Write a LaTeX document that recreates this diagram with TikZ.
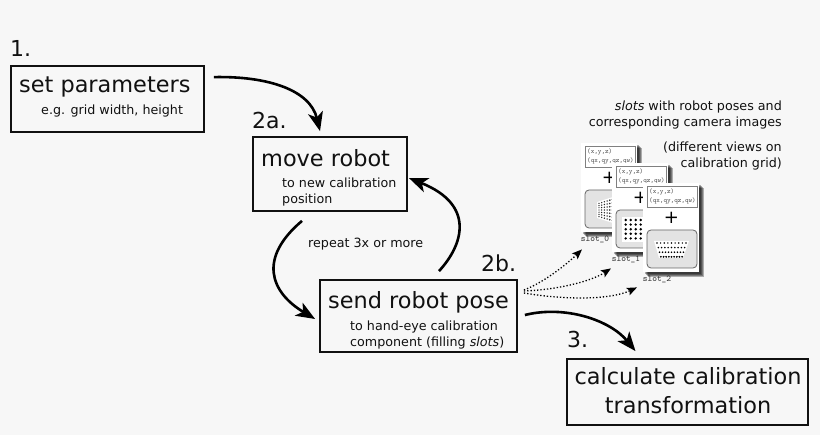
\documentclass[tikz,border=0pt]{standalone}
\usepackage{fontspec}
\setmainfont{DejaVu Sans}
\usetikzlibrary{arrows.meta,calc}
\definecolor{bg}{HTML}{F7F7F7}
\definecolor{ink}{HTML}{111111}
\tikzset{
  box/.style={draw=ink,line width=1.8pt,fill=none,inner sep=0pt},
  flow/.style={draw=black,line width=2.6pt,-{Stealth[length=19pt,width=15pt,inset=5pt]}},
  dotflow/.style={draw=black,line width=1.3pt,dotted,-{Stealth[length=10pt,width=8pt,inset=2pt]}},
  txt/.style={inner sep=0pt,text=ink,anchor=base west},
  big/.style={font=\fontsize{22.4}{22.4}\selectfont},
  small/.style={font=\fontsize{12.7}{12.7}\selectfont},
  num/.style={font=\fontsize{22}{22}\selectfont},
  txtr/.style={inner sep=0pt,text=ink,anchor=base east,small},
  card/.style={fill=white,minimum width=56pt,minimum height=89pt,inner sep=0pt},
  cardshadow/.style={fill=black,opacity=.3,minimum width=56pt,minimum height=89pt,inner sep=0pt},
  posebox/.style={draw=black!50,line width=.7pt,fill=white,minimum width=50pt,minimum height=21pt,inner sep=0pt},
  imgbox/.style={draw=black!60,line width=.8pt,fill=black!11,rounded corners=4pt,minimum width=50pt,minimum height=38pt,inner sep=0pt},
  mono/.style={inner sep=0pt,font=\ttfamily\fontsize{6.75}{6.75}\selectfont,text=black!70},
  slotlabel/.style={inner sep=0pt,font=\ttfamily\fontsize{9}{9}\selectfont,text=black!80}
}
\newcommand{\slotcard}[4]{% #1 name, #2 x, #3 y, #4 label
  \foreach \o in {4.5,3.5,2.5,1.5}{
    \node[cardshadow,anchor=north west] at (#2+\o,#3+\o) {};
  }
  \node[card,anchor=north west] (#1) at (#2,#3) {};
  \node[posebox] (#1p) at (#2+29,#3+14) {};
  \node[mono,anchor=west] at (#2+6,#3+9) {(x,y,z)};
  \node[mono,anchor=west] at (#2+6,#3+18) {(qx,qy,qz,qw)};
  \node[inner sep=0pt,font=\fontsize{18}{18}\selectfont,text=black] at (#2+28.5,#3+35) {+};
  \node[imgbox] (#1i) at (#2+29,#3+66) {};
  \node[slotlabel] at (#2+14,#3+96) {#4};
}
\begin{document}
\begin{tikzpicture}[x=1pt,y=-1pt]
\useasboundingbox (0,0) rectangle (820,435);
\fill[bg] (0,0) rectangle (820,435);

% step numbers
\node[txt,num] (n1) at (10,57) {1.};
\node[txt,num] (n2a) at (252,129) {2a.};
\node[txt,num] (n2b) at (481,272) {2b.};
\node[txt,num] (n3) at (567,348) {3.};

% boxes
\node[box,minimum width=193pt,minimum height=66pt] (setp) at (107.5,99) {};
\node[box,minimum width=154pt,minimum height=74pt] (move) at (330,174) {};
\node[box,minimum width=197pt,minimum height=72pt] (send) at (418.5,316) {};
\node[box,minimum width=241pt,minimum height=66pt] (calc) at (687.5,392) {};

\node[txt,big] at (19,93) {set parameters};
\node[txt,small] at (41,115) {e.g. grid width, height};
\node[txt,big] at (261,167) {move robot};
\node[txt,small] at (282,188) {to new calibration};
\node[txt,small] at (282,204) {position};
\node[txt,big] at (328,309) {send robot pose};
\node[txt,small] at (350,331) {to hand-eye calibration};
\node[txt,small] at (350,347) {component (filling \textit{slots})};
\node[inner sep=0pt,text=ink,big] at (688,376) {calculate calibration};
\node[inner sep=0pt,text=ink,big] at (688,405) {transformation};
\node[txt,small] at (308,248) {repeat 3x or more};

% slot caption
\node[txtr] at (782,111) {\textit{slots} with robot poses and};
\node[txtr] at (782,127) {corresponding camera images};
\node[txtr] at (782,152) {(different views on};
\node[txtr] at (782,168) {calibration grid)};

% slots
\slotcard{slotA}{581}{143}{slot\_0}
\fill[white] (597,202) -- (613,197) -- (613,223) -- (597,218) -- cycle;
\foreach \c in {0,...,5}{
  \pgfmathsetmacro\px{599+\c*2.7}
  \pgfmathsetmacro\hh{7.5+\c*0.9}
  \foreach \r in {-3,...,3}{
    \fill[black!85] (\px,210-\r*\hh/3.4) circle (0.7+0.05*\c);
  }
}
\slotcard{slotB}{612}{163}{slot\_1}
\fill[white] (622,217) rectangle (650,242);
\foreach \c in {0,...,5}{\foreach \r in {0,...,4}{
  \fill[black] (625.7+\c*5,220+\r*4.6) circle (1.35);
}}
\slotcard{slotC}{643}{183}{slot\_2}
\fill[white] (654,241) -- (689,241) -- (683,258) -- (659,258) -- cycle;
\foreach \r in {0,...,3}{
  \pgfmathsetmacro\wid{14.5-\r*1.3}
  \pgfmathsetmacro\yy{243+\r*4.6}
  \foreach \c in {-4,...,4}{
    \fill[black] ({671.5+\c*\wid/4},\yy) circle (0.8+0.07*\r);
  }
}

% connectors
\coordinate (s1) at ($(setp.north east)+(9,12)$);
\coordinate (e1) at ($(move.north)+(-10,-5)$);
\draw[flow] (s1) .. controls (268,76) and (310,90) .. (e1);

\coordinate (s2) at ($(move.south)+(-28,9)$);
\coordinate (e2) at ($(send.west)+(-4,3)$);
\draw[flow] (s2) .. controls (258,258) and (270,292) .. (e2);

\coordinate (s3) at ($(send.north)+(20.5,-8)$);
\coordinate (e3) at ($(move.east)+(1,4)$);
\draw[flow] (s3) .. controls (463,245) and (476,205) .. (e3);

\coordinate (s4) at ($(send.east)+(7,-1)$);
\coordinate (e4) at ($(calc.north)+(-52,-7)$);
\draw[flow] (s4) .. controls (565,305) and (610,320) .. (e4);

\coordinate (d0) at ($(send.east)+(6,-26)$);
\coordinate (d1) at ($(send.east)+(6,-25)$);
\coordinate (d2) at ($(send.east)+(6,-23)$);
\coordinate (t0) at ($(slotA.south west)+(1,17)$);
\coordinate (t1) at ($(slotB.south west)+(-1,16)$);
\coordinate (t2) at ($(slotC.south west)+(-6,15)$);
\draw[dotflow] (d0) .. controls (545,282) and (568,263) .. (t0);
\draw[dotflow] (d1) .. controls (555,290) and (590,282) .. (t1);
\draw[dotflow] (d2) .. controls (565,300) and (610,300) .. (t2);
\end{tikzpicture}
\end{document}
